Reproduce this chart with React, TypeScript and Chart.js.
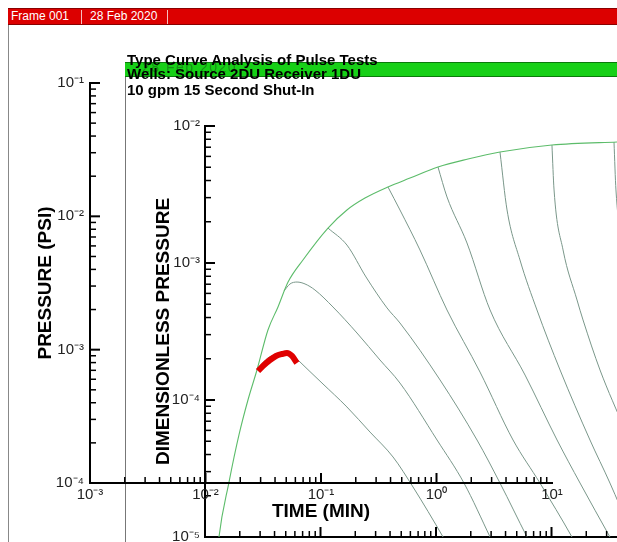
import React, { useEffect, useRef } from 'react';
import { Chart, registerables } from 'chart.js';

Chart.register(...registerables);

const W = 617;
const H = 542;
const INNER_H = 600;

// ---- Type curves (inner axes: time vs dimensionless pressure) ----
const envelopeTime = [0.0125, 0.01321, 0.01614, 0.01968, 0.02355, 0.02818, 0.03508, 0.04285, 0.05236, 0.07047, 0.1161, 0.1694, 0.2427, 0.3837, 0.5957, 1.04, 1.892, 3.581, 10.09, 36.9, 71.29];
const envelopePd = [6.0e-6, 1.0e-5, 2.518e-5, 5.559e-5, 1.0e-4, 1.656e-4, 3.243e-4, 4.775e-4, 7.261e-4, 1.052e-3, 1.799e-3, 2.438e-3, 2.979e-3, 3.589e-3, 4.169e-3, 5.023e-3, 5.741e-3, 6.457e-3, 7.261e-3, 7.638e-3, 7.78e-3];

const branch1Time = [0.02877, 0.03508, 0.04198, 0.04932, 0.05662, 0.06383, 0.103, 0.1694, 0.2685, 0.4246, 0.6324, 1.151, 1.968];
const branch1Pd = [1.714e-4, 2.028e-4, 2.168e-4, 2.239e-4, 2.168e-4, 1.959e-4, 1.33e-4, 8.892e-5, 5.834e-5, 3.837e-5, 2.317e-5, 1.0e-5, 4.467e-6];

const branch2Time = [0.04831, 0.05445, 0.06266, 0.07345, 0.08954, 0.1282, 0.207, 0.3273, 0.4875, 1.021, 1.746, 2.938, 4.831];
const branch2Pd = [6.252e-4, 7.031e-4, 7.261e-4, 7.031e-4, 6.353e-4, 4.775e-4, 3.083e-4, 1.959e-4, 1.33e-4, 5.105e-5, 2.477e-5, 1.0e-5, 4.102e-6];

const branch3Time = [0.1161, 0.1694, 0.2477, 0.3767, 0.4875, 1.084, 2.265, 3.581, 6.138, 10.72];
const branch3Pd = [1.799e-3, 1.352e-3, 7.907e-4, 4.699e-4, 3.648e-4, 1.4e-4, 5.105e-5, 2.477e-5, 1.0e-5, 4.102e-6];

const branch4Time = [0.3837, 0.4875, 0.7261, 1.245, 2.404, 4.645, 7.943, 15.03, 26.3];
const branch4Pd = [3.589e-3, 2.438e-3, 1.245e-3, 4.539e-4, 1.6e-4, 5.105e-5, 2.477e-5, 1.0e-5, 4.102e-6];

const branch5Time = [1.04, 1.245, 1.854, 2.938, 5.902, 11.17, 17.66, 32.06, 58.34];
const branch5Pd = [5.023e-3, 3.034e-3, 1.4e-3, 4.539e-4, 1.521e-4, 5.105e-5, 2.477e-5, 1.0e-5, 4.102e-6];

const branch6Time = [3.581, 4.121, 5.333, 7.482, 11.86, 21.53, 32.06, 47.86];
const branch6Pd = [6.457e-3, 2.438e-3, 1.052e-3, 4.539e-4, 1.656e-4, 5.105e-5, 2.477e-5, 1.125e-5];

const branch7Time = [10.09, 10.52, 12.59, 16.63, 18.75, 26.3, 43.25];
const branch7Pd = [7.261e-3, 3.412e-3, 1.245e-3, 5.37e-4, 3.837e-4, 1.656e-4, 6.039e-5];

const branch8Time = [34.75, 36.14, 43.25];
const branch8Pd = [7.638e-3, 3.412e-3, 1.052e-3];

// ---- Field data (outer axes: time in min vs pressure in psi) ----
const fieldTime = [0.02849, 0.0321, 0.03615, 0.04074, 0.04592, 0.05077, 0.0561, 0.06194];
const fieldPsi = [6.918e-4, 7.674e-4, 8.367e-4, 8.966e-4, 9.28e-4, 9.441e-4, 8.966e-4, 7.943e-4];

// ---- Axis ranges ----
const outerTimeRange = [1e-3, 10];
const outerPsiRange = [1e-4, 1e-1];
const innerTimeRange = [1e-2, 36.9];
const innerPdRange = [1e-5, 1e-2];

const titleLines = ['Type Curve Analysis of Pulse Tests', 'Wells: Source 2DU Receiver 1DU', '10 gpm 15 Second Shut-In'];
const headerTexts = ['Frame 001', '28 Feb 2020'];

const FONT = '"Liberation Sans", Arial, Helvetica, sans-serif';

const SUP: Record<string, string> = { '-': '\u207B', '0': '\u2070', '1': '\u00B9', '2': '\u00B2', '3': '\u00B3', '4': '\u2074', '5': '\u2075', '6': '\u2076', '7': '\u2077', '8': '\u2078', '9': '\u2079' };

function powLabel(value: any) {
  const v = Number(value);
  const l = Math.log10(v);
  const r = Math.round(l);
  if (Math.abs(l - r) > 1e-6) return '';
  return '10' + String(r).split('').map((c) => SUP[c] || c).join('');
}

function pts(xs: number[], ys: number[]) {
  return xs.map((x, i) => ({ x, y: ys[i] }));
}

const inwardTicks = {
  id: 'inwardTicks',
  afterDraw(chart: any) {
    const { ctx, chartArea } = chart;
    ctx.save();
    ctx.strokeStyle = '#000';
    for (const id of Object.keys(chart.scales)) {
      const s = chart.scales[id];
      for (const t of s.ticks) {
        const v = t.value;
        if (!(v > 0)) continue;
        const e = Math.floor(Math.log10(v) + 1e-9);
        const m = v / Math.pow(10, e);
        if (Math.abs(m - Math.round(m)) > 1e-6) continue;
        const major = Math.abs(m - 1) < 1e-6 || Math.abs(m - 10) < 1e-6;
        const len = major ? 10 : 6;
        ctx.lineWidth = major ? 2 : 1.5;
        const p = s.getPixelForValue(v);
        ctx.beginPath();
        if (s.isHorizontal()) {
          if (p < chartArea.left - 1 || p > chartArea.right - 2) continue;
          ctx.moveTo(p, chartArea.bottom);
          ctx.lineTo(p, chartArea.bottom - len);
        } else {
          if (p < chartArea.top - 1 || p > chartArea.bottom + 1) continue;
          ctx.moveTo(chartArea.left, p);
          ctx.lineTo(chartArea.left + len, p);
        }
        ctx.stroke();
      }
    }
    ctx.restore();
  },
};

const tickFont = { family: FONT, size: 15 };
const axisTitleFont = { family: FONT, size: 19, weight: 'bold' as const };

function logAxis(range: number[], extra: any) {
  return {
    type: 'logarithmic' as const,
    min: range[0],
    max: range[1],
    grid: { display: true, drawOnChartArea: false, drawTicks: false },
    border: { display: true, color: '#000', width: 2 },
    ...extra,
  };
}

const branchColor = '#7a978a';

export default function App() {
  const innerRef = useRef<HTMLCanvasElement>(null);
  const outerRef = useRef<HTMLCanvasElement>(null);

  useEffect(() => {
    const branches = [
      [branch1Time, branch1Pd],
      [branch2Time, branch2Pd],
      [branch3Time, branch3Pd],
      [branch4Time, branch4Pd],
      [branch5Time, branch5Pd],
      [branch6Time, branch6Pd],
      [branch7Time, branch7Pd],
      [branch8Time, branch8Pd],
    ];
    const inner = new Chart(innerRef.current as HTMLCanvasElement, {
      type: 'line',
      data: {
        datasets: [
          { data: pts(envelopeTime, envelopePd), borderColor: '#5cbc6a', borderWidth: 1.1, pointRadius: 0, fill: false, cubicInterpolationMode: 'monotone' },
          ...branches.map(([t, p]) => ({ data: pts(t, p), borderColor: branchColor, borderWidth: 1, pointRadius: 0, fill: false, cubicInterpolationMode: 'monotone' as const })),
        ],
      },
      options: {
        responsive: false,
        animation: false,
        devicePixelRatio: 1,
        events: [],
        layout: { padding: { left: 152, right: 0, top: 126, bottom: INNER_H - 537 - 40 } },
        plugins: { legend: { display: false }, tooltip: { enabled: false } },
        scales: {
          x: logAxis(innerTimeRange, {
            position: 'bottom',
            afterFit: (s: any) => { s.height = 40; },
            ticks: { display: false, autoSkip: false },
          }),
          y: logAxis(innerPdRange, {
            position: 'left',
            afterFit: (s: any) => { s.width = 53; },
            ticks: { autoSkip: false, padding: 5, font: tickFont, color: '#222', callback: powLabel },
            title: { display: true, text: 'DIMENSIONLESS PRESSURE', font: axisTitleFont, color: '#000', padding: 0 },
          }),
        },
      } as any,
      plugins: [inwardTicks],
    });

    const outer = new Chart(outerRef.current as HTMLCanvasElement, {
      type: 'line',
      data: {
        datasets: [
          { data: pts(fieldTime, fieldPsi), borderColor: '#e00000', borderWidth: 6, pointRadius: 0, fill: false, cubicInterpolationMode: 'monotone', borderCapStyle: 'butt' },
        ],
      },
      options: {
        responsive: false,
        animation: false,
        devicePixelRatio: 1,
        events: [],
        layout: { padding: { left: 34, right: 65, top: 83, bottom: 19 } },
        plugins: { legend: { display: false }, tooltip: { enabled: false } },
        scales: {
          x: logAxis(outerTimeRange, {
            position: 'bottom',
            afterFit: (s: any) => { s.height = 40; },
            ticks: { autoSkip: false, maxRotation: 0, padding: 3, font: tickFont, color: '#222', callback: powLabel },
            title: { display: true, text: 'TIME (MIN)', font: axisTitleFont, color: '#000', padding: 0 },
          }),
          y: logAxis(outerPsiRange, {
            position: 'left',
            afterFit: (s: any) => { s.width = 56; },
            ticks: { autoSkip: false, padding: 6, font: tickFont, color: '#222', callback: powLabel },
            title: { display: true, text: 'PRESSURE (PSI)', font: axisTitleFont, color: '#000', padding: 0 },
          }),
        },
      } as any,
      plugins: [inwardTicks],
    });

    return () => {
      inner.destroy();
      outer.destroy();
    };
  }, []);

  const abs = (s: React.CSSProperties): React.CSSProperties => ({ position: 'absolute', ...s });

  return (
    <div style={{ position: 'fixed', left: 0, top: 0, width: W, height: H, background: '#fff', overflow: 'hidden', fontFamily: FONT }}>
      {/* frame header */}
      <div style={abs({ left: 8, top: 8, width: W - 8, height: 17, background: '#dc0000', borderTop: '1px solid #8a0000', borderBottom: '1px solid #8a0000', boxSizing: 'border-box' })} />
      <div style={abs({ left: 11, top: 9, lineHeight: '15px', fontSize: 12, color: '#fff', whiteSpace: 'nowrap' })}>{headerTexts[0]}</div>
      <div style={abs({ left: 81, top: 10, width: 1, height: 14, background: 'rgba(255,255,255,0.75)' })} />
      <div style={abs({ left: 90, top: 9, lineHeight: '15px', fontSize: 12, color: '#fff', whiteSpace: 'nowrap' })}>{headerTexts[1]}</div>
      <div style={abs({ left: 167, top: 10, width: 1, height: 14, background: 'rgba(255,255,255,0.75)' })} />
      {/* frame borders */}
      <div style={abs({ left: 8, top: 25, width: 1, height: H - 25, background: '#888' })} />
      <div style={abs({ left: 125, top: 62, width: 1, height: H - 62, background: '#777' })} />
      {/* green header of second frame */}
      <div style={abs({ left: 125, top: 62, width: W - 125, height: 15, background: '#17d017', borderTop: '1px solid #0a7a0a', borderBottom: '1px solid #0a7a0a', boxSizing: 'border-box' })} />

      <canvas ref={innerRef} width={W} height={INNER_H} style={abs({ left: 0, top: 0, width: W, height: INNER_H })} />
      <canvas ref={outerRef} width={W} height={H} style={abs({ left: 0, top: 0, width: W, height: H })} />

      {/* titles */}
      <div style={abs({ left: 142, top: 60, lineHeight: '14px', fontSize: 14, color: 'rgba(20,90,20,0.55)', letterSpacing: '1.5px', whiteSpace: 'nowrap' })}>{headerTexts[1]}</div>
      <div style={abs({ left: 127, top: 52, lineHeight: '15px', fontSize: 15, fontWeight: 'bold', color: '#000', whiteSpace: 'nowrap' })}>{titleLines[0]}</div>
      <div style={abs({ left: 127, top: 66, lineHeight: '15px', fontSize: 15, fontWeight: 'bold', color: '#000', whiteSpace: 'nowrap' })}>{titleLines[1]}</div>
      <div style={abs({ left: 127, top: 82, lineHeight: '15px', fontSize: 15, fontWeight: 'bold', color: '#000', whiteSpace: 'nowrap' })}>{titleLines[2]}</div>
    </div>
  );
}
